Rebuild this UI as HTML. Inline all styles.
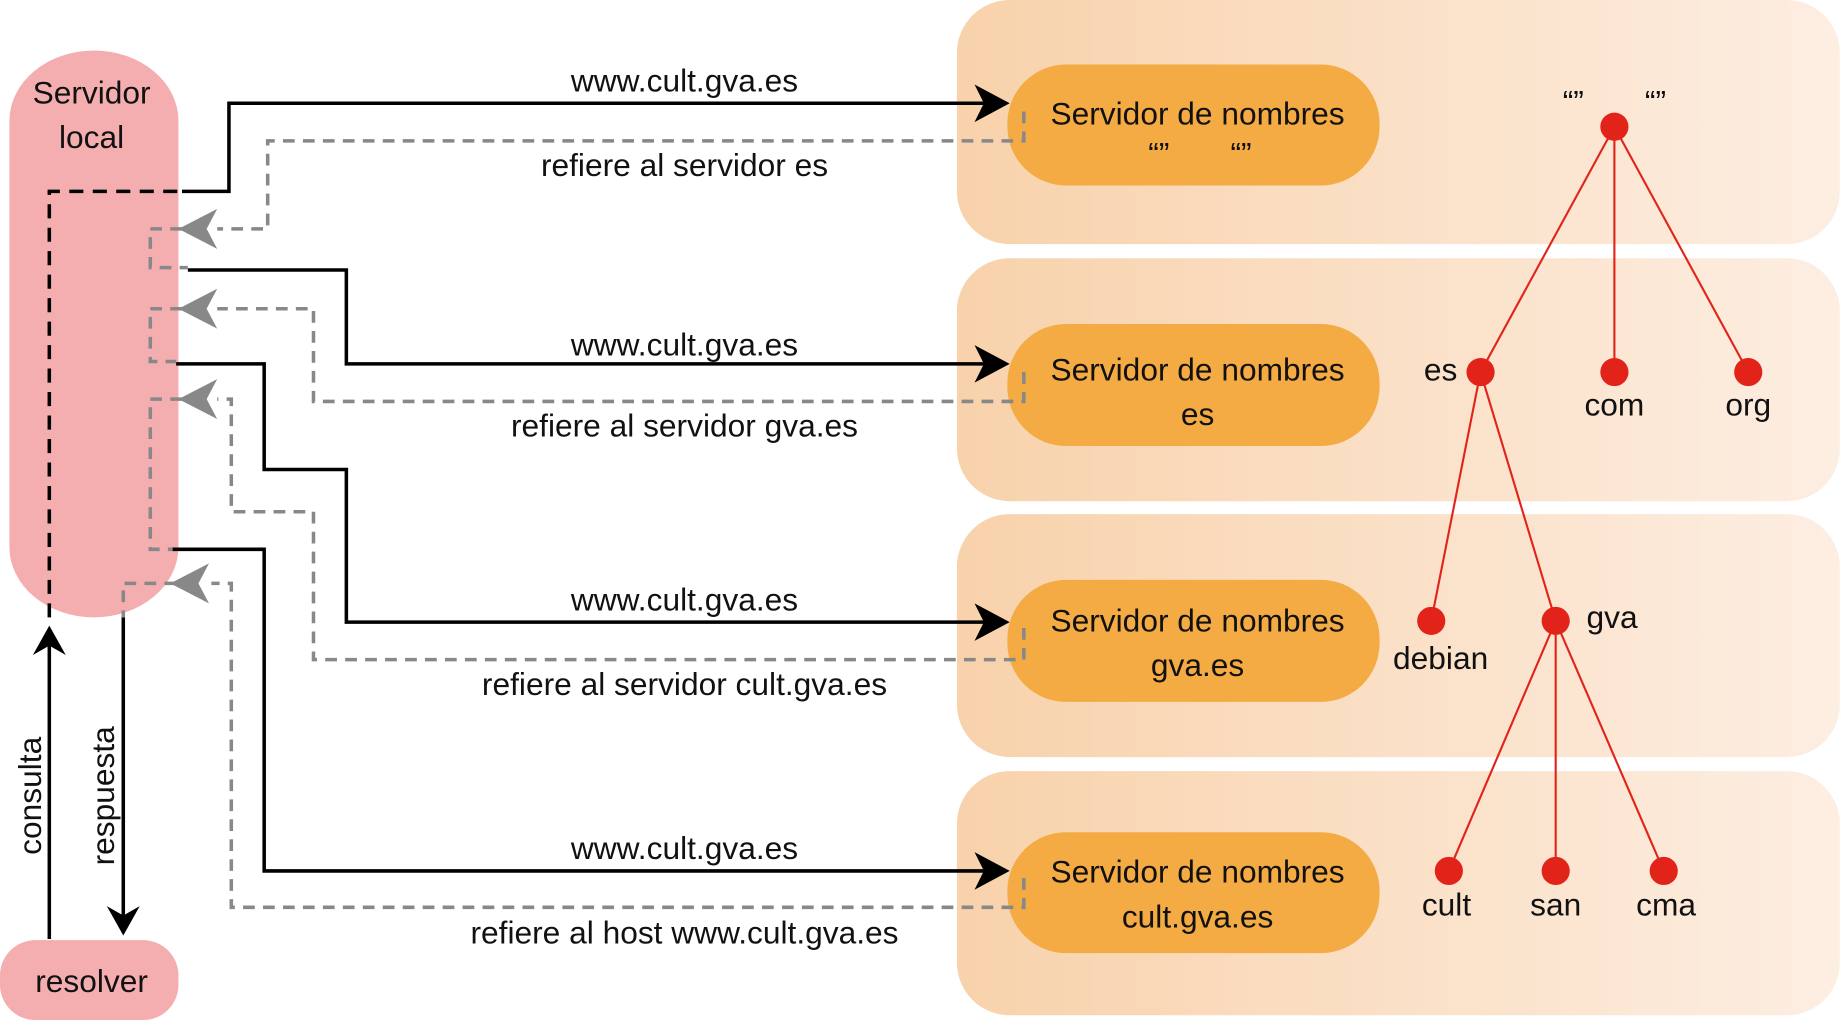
<!DOCTYPE html>
<html><head><meta charset="utf-8"><style>html,body{margin:0;padding:0;background:#fff}svg{display:block}</style></head>
<body>
<svg width="1841" height="1020" viewBox="0 0 1568 869" preserveAspectRatio="none" xmlns="http://www.w3.org/2000/svg" font-family="Liberation Sans, sans-serif" font-size="27">
<defs>
<linearGradient id="g" x1="0" x2="1" y1="0" y2="0"><stop offset="0" stop-color="#f8d2ab"/><stop offset="1" stop-color="#fdeee2"/></linearGradient>
</defs>
<rect x="815" y="0" width="752" height="208" rx="45" fill="url(#g)"/>
<rect x="815" y="220" width="752" height="207" rx="45" fill="url(#g)"/>
<rect x="815" y="438" width="752" height="207" rx="45" fill="url(#g)"/>
<rect x="815" y="657" width="752" height="208" rx="45" fill="url(#g)"/>
<g fill="#f5ab43">
<rect x="858" y="55" width="317" height="103" rx="50"/>
<rect x="858" y="276" width="317" height="104" rx="50"/>
<rect x="858" y="494" width="317" height="104" rx="50"/>
<rect x="858" y="709" width="317" height="103" rx="50"/>
</g>
<rect x="8" y="43" width="144" height="483" rx="72" ry="60" fill="#f4aeb0"/>
<rect x="0" y="801" width="152" height="68" rx="30" fill="#f4aeb0"/>
<g text-anchor="middle" fill="#111">
<text x="78" y="88">Servidor</text><text x="78" y="126">local</text>
<text x="78" y="845">resolver</text>
<text x="1020" y="106">Servidor de nombres</text><text x="987" y="140">“”</text><text x="1057" y="140">“”</text>
<text x="1020" y="324">Servidor de nombres</text><text x="1020" y="362">es</text>
<text x="1020" y="538">Servidor de nombres</text><text x="1020" y="576">gva.es</text>
<text x="1020" y="752">Servidor de nombres</text><text x="1020" y="790">cult.gva.es</text>
<text x="583" y="78">www.cult.gva.es</text>
<text x="583" y="303">www.cult.gva.es</text>
<text x="583" y="520">www.cult.gva.es</text>
<text x="583" y="732">www.cult.gva.es</text>
<text x="583" y="150">refiere al servidor es</text>
<text x="583" y="372">refiere al servidor gva.es</text>
<text x="583" y="592">refiere al servidor cult.gva.es</text>
<text x="583" y="804">refiere al host www.cult.gva.es</text>
<text transform="translate(35,678) rotate(-90)">consulta</text>
<text transform="translate(97,678) rotate(-90)">respuesta</text>
<text x="1340" y="96">“”</text><text x="1410" y="96">“”</text>
<text x="1227" y="324">es</text>
<text x="1375" y="354">com</text><text x="1489" y="354">org</text>
<text x="1227" y="570">debian</text><text x="1373" y="535">gva</text>
<text x="1232" y="780">cult</text><text x="1325" y="780">san</text><text x="1419" y="780">cma</text>
</g>
<g stroke="#e2231a" stroke-width="1.8">
<line x1="1375" y1="108" x2="1261" y2="317"/><line x1="1375" y1="108" x2="1375" y2="317"/><line x1="1375" y1="108" x2="1489" y2="317"/>
<line x1="1261" y1="317" x2="1219" y2="529"/><line x1="1261" y1="317" x2="1325" y2="529"/>
<line x1="1325" y1="529" x2="1234" y2="742"/><line x1="1325" y1="529" x2="1325" y2="742"/><line x1="1325" y1="529" x2="1417" y2="742"/>
</g>
<g fill="#e2231a">
<circle cx="1375" cy="108" r="12"/><circle cx="1261" cy="317" r="12"/><circle cx="1375" cy="317" r="12"/><circle cx="1489" cy="317" r="12"/>
<circle cx="1219" cy="529" r="12"/><circle cx="1325" cy="529" r="12"/>
<circle cx="1234" cy="742" r="12"/><circle cx="1325" cy="742" r="12"/><circle cx="1417" cy="742" r="12"/>
</g>
<g fill="none" stroke="#000" stroke-width="3">
<polyline points="155,163 195,163 195,88 845,88"/>
<polyline points="160,230 295,230 295,310 845,310"/>
<polyline points="150,310 225,310 225,400 295,400 295,530 845,530"/>
<polyline points="147,468 225,468 225,742 845,742"/>
<line x1="42" y1="800" x2="42" y2="550"/>
<line x1="105" y1="526" x2="105" y2="780"/>
</g>
<g fill="#000">
<path d="M860,88 L830,72 L838,88 L830,104Z"/>
<path d="M860,310 L830,294 L838,310 L830,326Z"/>
<path d="M860,530 L830,514 L838,530 L830,546Z"/>
<path d="M860,742 L830,726 L838,742 L830,758Z"/>
<path d="M42,533 L28,558 L42,550 L56,558Z"/>
<path d="M105,797 L91,772 L105,780 L119,772Z"/>
</g>
<g fill="none" stroke="#000" stroke-width="3" stroke-dasharray="12,8">
<polyline points="42,526 42,163 155,163"/>
</g>
<g fill="none" stroke="#888" stroke-width="3" stroke-dasharray="10,7">
<polyline points="872,95 872,120 228,120 228,195 185,195"/>
<polyline points="155,195 128,195 128,228 160,228"/>
<polyline points="872,317 872,342 267,342 267,263 185,263"/>
<polyline points="155,263 128,263 128,308 150,308"/>
<polyline points="872,535 872,562 267,562 267,436 197,436 197,340 185,340"/>
<polyline points="155,340 128,340 128,468 147,468"/>
<polyline points="872,748 872,773 197,773 197,497 180,497"/>
<polyline points="150,497 105,497 105,526"/>
</g>
<g fill="#888">
<path d="M152,195 L185,178 L176,195 L185,212Z"/>
<path d="M152,263 L185,246 L176,263 L185,280Z"/>
<path d="M152,340 L185,323 L176,340 L185,357Z"/>
<path d="M145,497 L178,480 L169,497 L178,514Z"/>
</g>
</svg>
</body></html>
